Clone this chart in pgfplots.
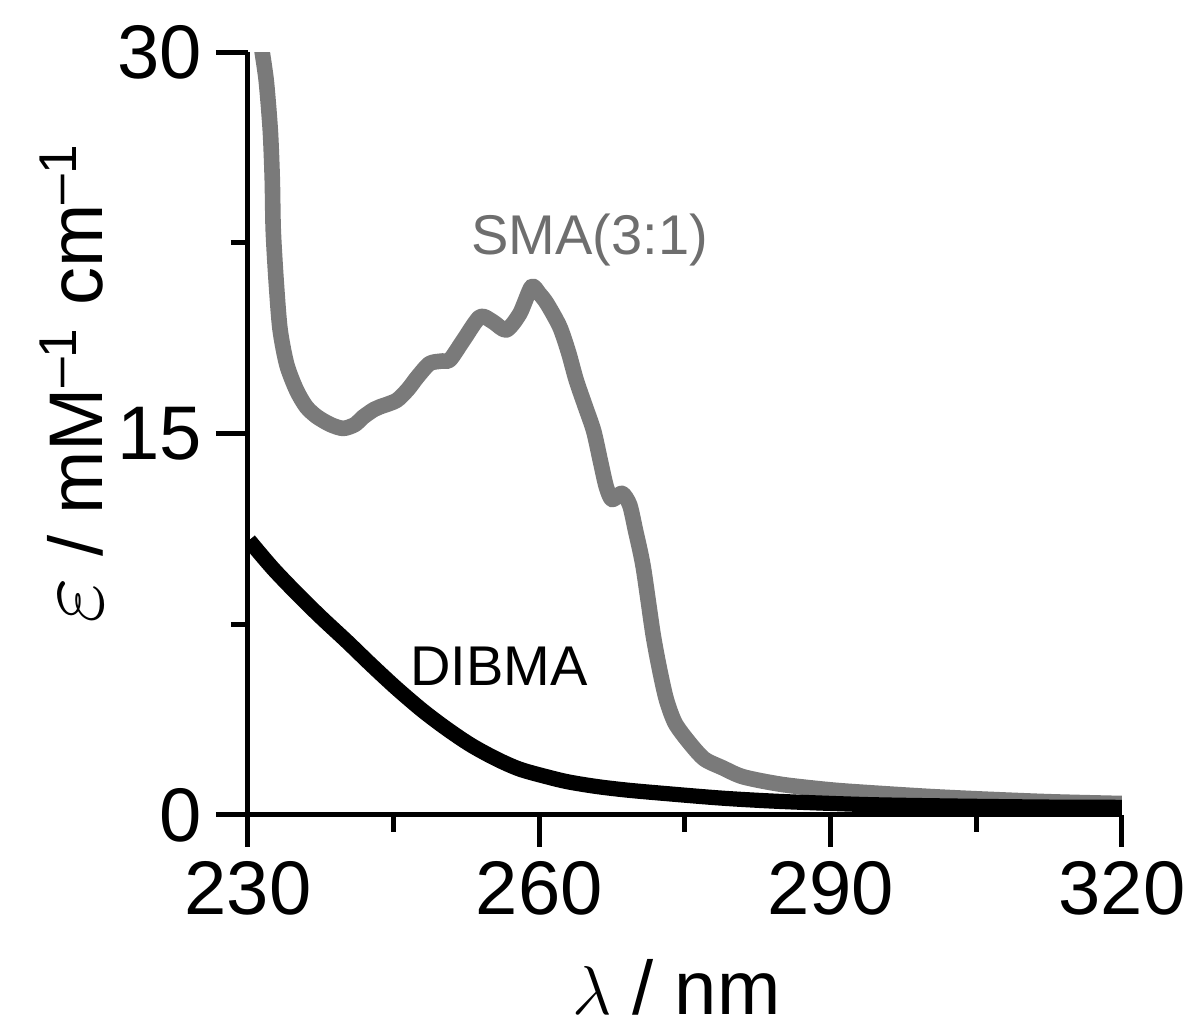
\documentclass[border=0pt]{standalone}
\usepackage{pgfplots}
\pgfplotsset{compat=1.18}
\usepackage{fontspec}
\setmainfont{Liberation Sans}
\definecolor{smagray}{RGB}{122,122,122}
\definecolor{smatext}{RGB}{110,110,110}
\begin{document}
\begin{tikzpicture}
\path[use as bounding box] (-62pt,-53pt) rectangle (238.25pt,203.75pt);
\begin{axis}[
  at={(0pt,0pt)}, anchor=south west,
  scale only axis, width=218.5pt, height=190.75pt,
  xmin=230, xmax=320, ymin=0, ymax=30,
  axis x line*=bottom, axis y line*=left,
  xtick={230,260,290,320}, minor xtick={245,275,305},
  ytick={0,15,30}, minor ytick={7.5,22.5},
  tick align=outside,
  major tick length=8pt, minor tick length=4.25pt,
  tick style={line width=1.25pt, black},
  axis line style={line width=1.25pt, black},
  tick label style={font=\fontsize{19}{22}\selectfont},
  /pgf/number format/assume math mode=true,
  xlabel={$\lambda$ / nm},
  ylabel={{\fontsize{23}{24}\selectfont$\varepsilon$} / mM\textsuperscript{--1} cm\textsuperscript{--1}},
  label style={font=\fontsize{19}{22}\selectfont},
  xlabel style={at={(axis description cs:0.49,0)}, anchor=base, yshift=-50pt},
  ylabel style={at={(axis description cs:-0.167,0.566)}, anchor=base},
]
\addplot[smagray, line width=3.9pt, line join=round, mark=none, smooth, tension=0.45] coordinates {
(231.2,30.6) (231.5,29.9) (231.9,28.8) (232.3,26.9) (232.5,25.0) (232.6,23.0)
(232.9,21.0) (233.3,19.1) (234.0,17.7) (235.0,16.7) (236.0,16.05) (237.1,15.66)
(238.5,15.35) (239.8,15.2) (241.0,15.35) (241.9,15.66) (243.0,15.95) (243.6,16.05)
(245.3,16.3) (246.5,16.75) (247.4,17.2) (248.7,17.75) (250.0,17.85) (250.8,17.9)
(252.2,18.68) (253.9,19.59) (255.2,19.4) (256.6,19.07) (258.0,19.72) (259.2,20.77)
(260.0,20.5) (260.8,20.1) (262.1,19.2) (263.0,18.2) (263.8,17.1) (264.7,16.1)
(265.6,15.1) (266.3,13.9) (266.9,12.9) (267.5,12.4) (268.5,12.65) (269.3,12.2)
(269.9,11.2) (270.7,9.76) (271.7,7.14) (272.4,5.7) (273.1,4.52) (274.0,3.6)
(275.5,2.82) (277.0,2.2) (278.9,1.85) (281,1.5) (285,1.2) (290.2,0.98)
(295,0.85) (300.5,0.72) (306,0.62) (312.6,0.52) (320,0.45)
};
\addplot[black, line width=3.8pt, line join=round, mark=none, smooth, tension=0.5] coordinates {
(230.1,10.8) (232.5,9.72) (235.0,8.72) (237.5,7.78) (240.2,6.82) (242.7,5.9)
(245.3,4.98) (248,4.1) (250.5,3.38) (253,2.74) (255.6,2.2) (258,1.8)
(260.8,1.5) (263,1.3) (265.9,1.12) (269,0.98) (272.8,0.85) (278.9,0.66)
(285,0.53) (293.7,0.41) (303,0.35) (312.6,0.31) (320,0.3)
};
\node[anchor=base, text=smatext, font=\fontsize{14}{16}\selectfont] at (axis cs:265.2,22.02) {SMA(3:1)};
\node[anchor=base, text=black, font=\fontsize{14}{16}\selectfont] at (axis cs:255.85,5.11) {DIBMA};
\end{axis}
\end{tikzpicture}
\end{document}
